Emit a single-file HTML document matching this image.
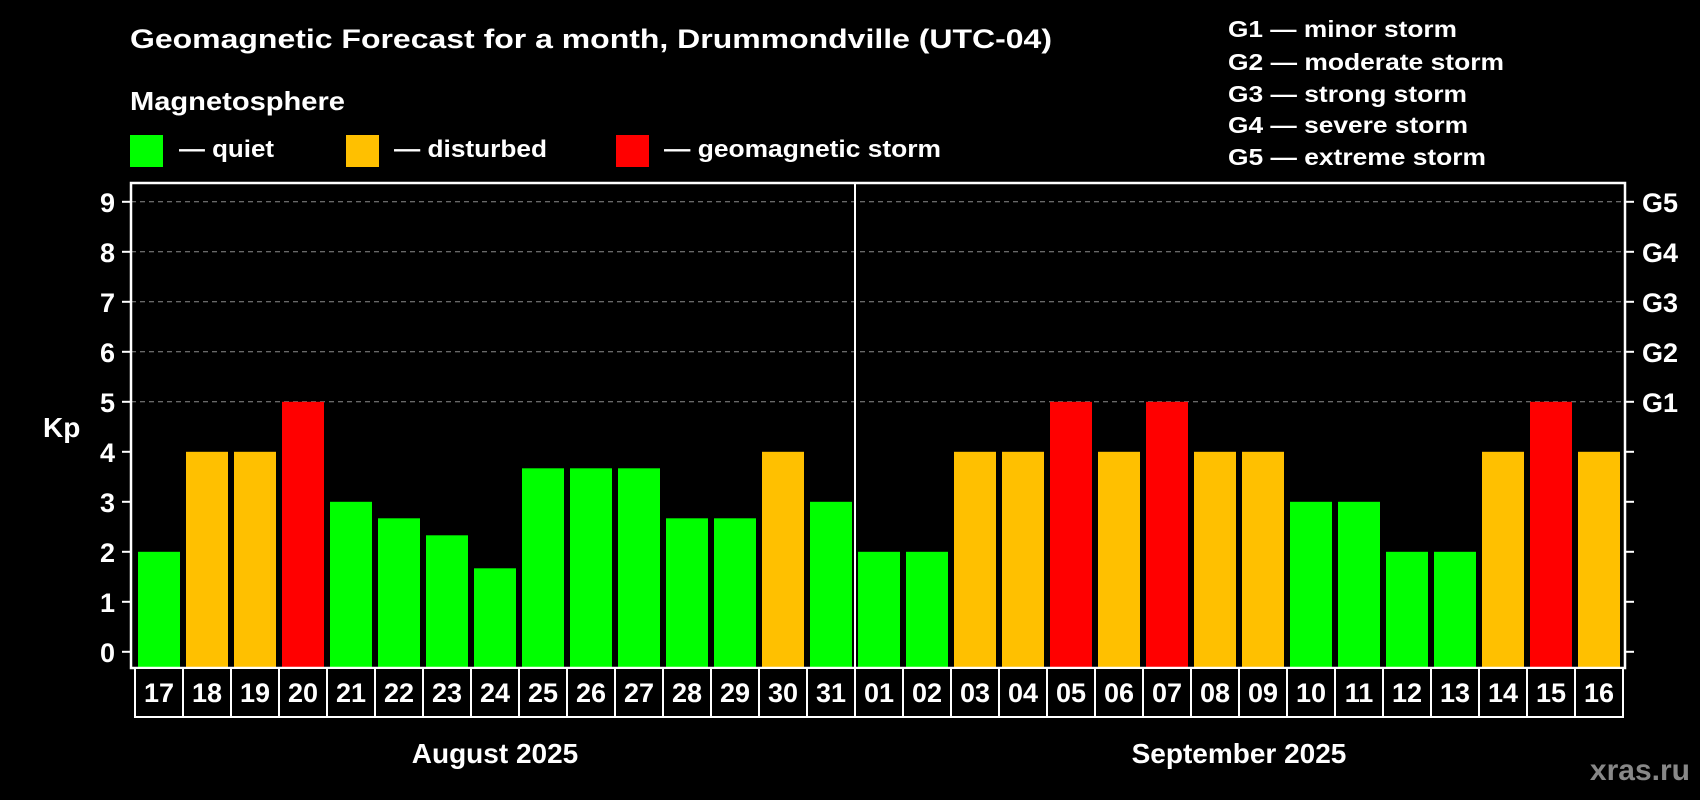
<!DOCTYPE html>
<html><head><meta charset="utf-8"><style>
html,body{margin:0;padding:0;background:#000;}
svg{display:block;font-family:"Liberation Sans",Arial,sans-serif;font-weight:bold;}
</style></head><body>
<svg id="chart" width="1700" height="800" viewBox="0 0 1700 800">
<rect x="0" y="0" width="1700" height="800" fill="#000"/>
<text x="130" y="48" font-size="27" fill="#fff" textLength="922" lengthAdjust="spacingAndGlyphs">Geomagnetic Forecast for a month, Drummondville (UTC-04)</text>
<text x="130" y="110" font-size="26" fill="#fff" textLength="215" lengthAdjust="spacingAndGlyphs">Magnetosphere</text>
<rect x="130" y="135" width="33" height="32" fill="#00ff00"/>
<text x="179" y="157" font-size="24" fill="#fff" textLength="95" lengthAdjust="spacingAndGlyphs">— quiet</text>
<rect x="346" y="135" width="33" height="32" fill="#ffc000"/>
<text x="394" y="157" font-size="24" fill="#fff" textLength="153" lengthAdjust="spacingAndGlyphs">— disturbed</text>
<rect x="616" y="135" width="33" height="32" fill="#ff0000"/>
<text x="664" y="157" font-size="24" fill="#fff" textLength="277" lengthAdjust="spacingAndGlyphs">— geomagnetic storm</text>
<g font-size="23" fill="#fff">
<text x="1228" y="37" textLength="229" lengthAdjust="spacingAndGlyphs">G1 — minor storm</text>
<text x="1228" y="70" textLength="276" lengthAdjust="spacingAndGlyphs">G2 — moderate storm</text>
<text x="1228" y="102" textLength="239" lengthAdjust="spacingAndGlyphs">G3 — strong storm</text>
<text x="1228" y="133" textLength="240" lengthAdjust="spacingAndGlyphs">G4 — severe storm</text>
<text x="1228" y="165" textLength="258" lengthAdjust="spacingAndGlyphs">G5 — extreme storm</text>
</g>
<text x="43" y="437" font-size="28" fill="#fff">Kp</text>
<g id="grid"></g>
<g id="bars"></g>
<g id="axes"></g>
<text x="1690" y="780" font-size="30" fill="#888" text-anchor="end">xras.ru</text>
</svg>
<script>
const days = ["17","18","19","20","21","22","23","24","25","26","27","28","29","30","31","01","02","03","04","05","06","07","08","09","10","11","12","13","14","15","16"];
const kpValues = [2,4,4,5,3,2.67,2.33,1.67,3.67,3.67,3.67,2.67,2.67,4,3,2,2,4,4,5,4,5,4,4,3,3,2,2,4,5,4];
const yTicks = [0,1,2,3,4,5,6,7,8,9];
const gLabels = ["G1","G2","G3","G4","G5"];
const gLevels = [5,6,7,8,9];
const months = ["August 2025","September 2025"];
const monthDayCounts = [15,16];

const NS="http://www.w3.org/2000/svg";
const L=131,R=1625,T=183,B=668;
const x0=135,pitch=48,barW=42;
function yS(v){return 651.8-v*50;}
function xS(i){return x0+i*pitch;}
function mk(tag,attrs,parent){const e=document.createElementNS(NS,tag);for(const k in attrs)e.setAttribute(k,attrs[k]);parent.appendChild(e);return e;}
const grid=document.getElementById('grid'),bars=document.getElementById('bars'),axes=document.getElementById('axes');

gLevels.forEach((v,i)=>{
  const l=mk('line',{x1:L,x2:R,y1:yS(v),y2:yS(v),stroke:'#8c8c8c','stroke-width':1,'stroke-dasharray':'5,4'},grid);
  
  
  const t=mk('text',{x:1642,y:yS(v)+10,'font-size':27,fill:'#fff'},axes);
  t.textContent=gLabels[i];
  
  
});

kpValues.forEach((v,i)=>{
  const c=v>=5?'#ff0000':(v>=4?'#ffc000':'#00ff00');
  const r=mk('rect',{x:xS(i)+3,y:yS(v),width:barW,height:667-yS(v),fill:c},bars);
  
  
});

yTicks.forEach(v=>{
  const tl=mk('line',{x1:122,x2:L,y1:yS(v),y2:yS(v),stroke:'#fff','stroke-width':2},axes);
  
  
  const tr=mk('line',{x1:R,x2:1634,y1:yS(v),y2:yS(v),stroke:'#fff','stroke-width':2},axes);
  
  
  const t=mk('text',{x:115,y:yS(v)+10,'font-size':27,fill:'#fff','text-anchor':'end'},axes);
  t.textContent=v;
  
  
});

const sepX=xS(monthDayCounts[0]);
const sep=mk('line',{x1:sepX,x2:sepX,y1:T,y2:B,stroke:'#fff','stroke-width':2},axes);



const frame=mk('rect',{x:L,y:T,width:R-L,height:B-T,fill:'none',stroke:'#fff','stroke-width':2.5},axes);



days.forEach((d,i)=>{
  const b=mk('rect',{x:xS(i),y:B,width:pitch,height:49,fill:'#000',stroke:'#fff','stroke-width':2},axes);
  
  
  const t=mk('text',{x:xS(i)+pitch/2,y:702,'font-size':27,fill:'#fff','text-anchor':'middle'},axes);
  t.textContent=d;
  
  
});

let start=0;
months.forEach((m,i)=>{
  const cx=xS(start)+monthDayCounts[i]*pitch/2;
  const t=mk('text',{x:cx,y:763,'font-size':28,fill:'#fff','text-anchor':'middle'},axes);
  t.textContent=m;
  
  
  start+=monthDayCounts[i];
});
</script>
</body></html>
